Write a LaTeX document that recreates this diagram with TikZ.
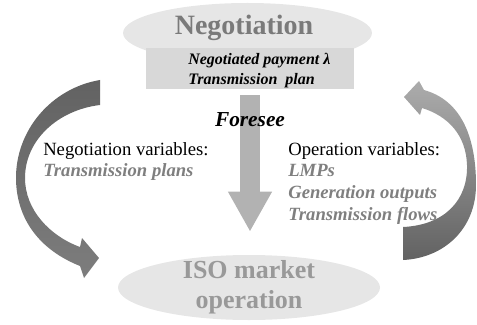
\documentclass[tikz,border=0pt]{standalone}
\usepackage{fontspec}
\setmainfont{Liberation Serif}
\usetikzlibrary{arrows.meta,positioning,shapes.geometric}
\definecolor{ink}{RGB}{0,0,0}
\definecolor{bubblefill}{RGB}{230,230,230}
\definecolor{barfill}{RGB}{216,216,216}
\definecolor{shaft}{RGB}{178,178,178}
\definecolor{headgray}{RGB}{122,122,122}
\definecolor{isogray}{RGB}{153,153,153}
\definecolor{vargray}{RGB}{127,127,127}
\definecolor{loopdark}{RGB}{98,98,98}
\definecolor{loopmid}{RGB}{125,125,125}
\definecolor{looplight}{RGB}{172,172,172}
\newcommand{\varname}[1]{{\color{vargray}\bfseries\itshape #1}}
\tikzset{
  bubble/.style={ellipse, fill=bubblefill, inner sep=0pt},
  planbar/.style={rectangle, fill=barfill, inner sep=0pt},
  title/.style={font=\bfseries\fontsize{21}{23}\selectfont, text=headgray, inner sep=0pt},
  isotitle/.style={font=\bfseries\fontsize{19.5}{22.5}\selectfont, text=isogray, align=center, inner sep=0pt},
  plantxt/.style={font=\bfseries\itshape\fontsize{12}{15}\selectfont, text=ink, align=left, inner sep=0pt},
  vars/.style={font=\fontsize{14}{16.2}\selectfont, text=ink, align=left, inner sep=0pt},
  foresee/.style={font=\bfseries\itshape\fontsize{16}{18}\selectfont, text=ink, inner sep=0pt},
  drop/.style={draw=shaft, line width=15pt, -{Triangle[width=30.75pt,length=30pt]}, shorten <=4.5pt, shorten >=17.25pt},
}

\begin{document}
\begin{tikzpicture}[x=0.75pt, y=-0.75pt]
  \useasboundingbox (0,0) rectangle (477,324);
  % negotiation
  \node[bubble, minimum width=186.75pt, minimum height=45pt] (neg) at (247.5,33) {};
  \node[title] (negtitle) at (244,28) {Negotiation};
  \node[planbar, minimum width=156pt, minimum height=30.75pt] (plan) at (250,68.5) {};
  \node[plantxt, anchor=west] (plantext) at (188,71) {Negotiated payment λ\\Transmission~ plan};
  % market operation
  \node[bubble, minimum width=196.5pt, minimum height=48.75pt] (iso) at (249,287.5) {};
  \node[isotitle] (isotext) at (iso) {ISO market\\operation};
  % foresee
  \draw[drop] (plan.south) -- (plan.south |- iso.north);
  \node[foresee, below=17pt of plan] (fore) {Foresee};
  % loops
  \shade[top color=loopdark, bottom color=loopmid]
    (100,80) .. controls (52,88) and (15,130) .. (16,180)
    .. controls (17,220) and (40,250) .. (80,266)
    -- (84,278) -- (99,258) -- (82,238) -- (80,247)
    .. controls (50,236) and (25,210) .. (25,178)
    .. controls (25,140) and (58,110) .. (100,105) -- cycle;
  \shade[top color=looplight, bottom color=loopdark]
    (403,260) .. controls (445,258) and (476,228) .. (476,185)
    .. controls (476,135) and (460,100) .. (424,90)
    -- (419,81) -- (404,97) -- (420,115) -- (422,108)
    .. controls (448,116) and (466,135) .. (467,165)
    .. controls (468,200) and (445,225) .. (403,227) -- cycle;
  % variables
  \node[vars, anchor=north west] (negvars) at (43,142) {Negotiation variables:\\\varname{Transmission plans}};
  \node[vars, anchor=north west] (opvars) at (288,142) {Operation variables:\\\varname{LMPs}\\\varname{Generation outputs}\\\varname{Transmission flows}};
\end{tikzpicture}
\end{document}
